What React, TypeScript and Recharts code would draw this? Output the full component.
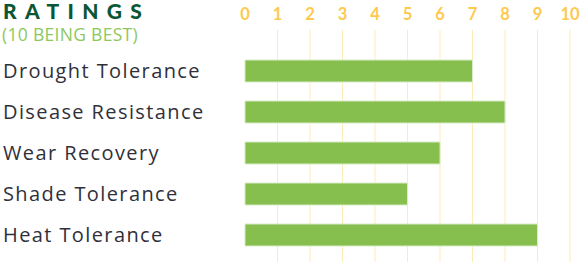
import { BarChart, Bar, XAxis, YAxis, CartesianGrid } from "recharts";

const categories = [
  "Drought Tolerance",
  "Disease Resistance",
  "Wear Recovery",
  "Shade Tolerance",
  "Heat Tolerance",
];
const ratings = [7, 8, 6, 5, 9];
const tickLabels = [0, 1, 2, 3, 4, 5, 6, 7, 8, 9, 10];
const gridTicks = [1, 2, 3, 4, 5, 6, 7, 8, 9, 10];

const data = categories.map((name, i) => ({ name, value: ratings[i] }));

const FONT = "Lato, 'Open Sans', sans-serif";
const LABEL_FONT = "'Open Sans', Lato, sans-serif";

function CategoryTick(props: any) {
  const { y, payload } = props;
  return (
    <text x={3} y={y + 7} fontSize={20} fill="#30303a" fontFamily={LABEL_FONT} letterSpacing={1.4} textAnchor="start">
      {payload.value}
    </text>
  );
}

function NumberTick(props: any) {
  const { x, payload } = props;
  return (
    <text x={x} y={20} fontSize={16.5} fontWeight={700} fill="#fdc94f" fontFamily={FONT} textAnchor="middle">
      {payload.value}
    </text>
  );
}

export default function App() {
  return (
    <div style={{ position: "absolute", left: 0, top: 0, width: 582, height: 262, background: "#fff" }}>
      <BarChart
        width={582}
        height={262}
        data={data}
        layout="vertical"
        margin={{ top: 0, right: 12, bottom: 0, left: 0 }}
      >
        <CartesianGrid horizontal={false} vertical stroke="#fdebb8" verticalValues={gridTicks} />
        <XAxis
          type="number"
          orientation="top"
          domain={[0, 10]}
          ticks={tickLabels}
          height={30}
          axisLine={false}
          tickLine={false}
          tick={<NumberTick />}
          interval={0}
        />
        <YAxis
          type="category"
          dataKey="name"
          width={245}
          axisLine={false}
          tickLine={false}
          tick={<CategoryTick />}
          padding={{ top: 20, bottom: 7 }}
        />
        <Bar
          dataKey="value"
          fill="#86bf4e"
          stroke="#d8ebc6"
          strokeWidth={1}
          barSize={22}
          isAnimationActive={false}
        />
      </BarChart>
      <svg width={582} height={50} style={{ position: "absolute", left: 0, top: 0, pointerEvents: "none" }}>
        <text x={3} y={18.5} fontFamily={FONT} fontWeight={900} fontSize={21} letterSpacing={8.3} fill="#0b5634">
          RATINGS
        </text>
        <text x={2} y={40.5} fontFamily={LABEL_FONT} fontSize={17.5} letterSpacing={0.3} fill="#8cc862">
          (10 BEING BEST)
        </text>
      </svg>
    </div>
  );
}
